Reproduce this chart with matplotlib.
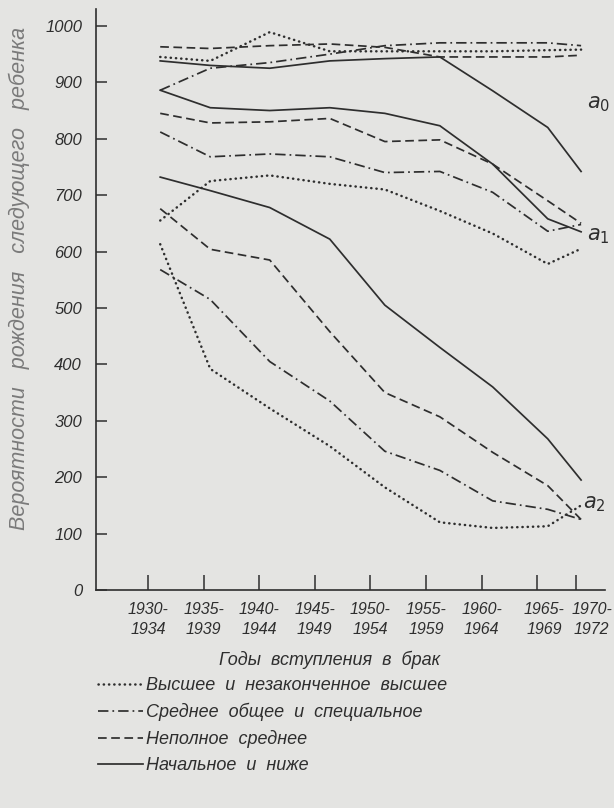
import numpy as np
import matplotlib.pyplot as plt

# periods of entering marriage (x axis)
periods = ["1930-\n1934", "1935-\n1939", "1940-\n1944", "1945-\n1949", "1950-\n1954",
           "1955-\n1959", "1960-\n1964", "1965-\n1969", "1970-\n1972"]
tick_pos = [0, 1, 2, 3, 4, 5, 6, 7, 7.7]
label_pos = [0, 1, 2, 3, 4, 5, 6, 7.13, 7.98]
x_pos = [0.22, 1.12, 2.19, 3.27, 4.26, 5.25, 6.2, 7.19, 7.79]

education = ["Высшее  и  незаконченное  высшее",
             "Среднее  общее  и  специальное",
             "Неполное  среднее",
             "Начальное  и  ниже"]

# a0 - probability of the first birth
a0_higher = [945, 938, 989, 955, 955, 955, 955, 957, 958]
a0_secondary = [886, 925, 935, 950, 965, 970, 970, 970, 965]
a0_incomplete = [963, 960, 965, 968, 962, 945, 945, 945, 948]
a0_primary = [938, 930, 925, 938, 942, 945, 885, 820, 742]

# a1 - probability of the second birth
a1_higher = [655, 725, 735, 720, 710, 672, 632, 578, 605]
a1_secondary = [812, 768, 773, 768, 740, 742, 705, 636, 648]
a1_incomplete = [845, 828, 830, 836, 795, 798, 755, 690, 650]
a1_primary = [886, 855, 850, 855, 845, 823, 755, 658, 635]

# a2 - probability of the third birth
a2_higher = [613, 392, 322, 255, 182, 120, 110, 113, 150]
a2_secondary = [568, 515, 405, 335, 246, 212, 158, 143, 125]
a2_incomplete = [676, 604, 585, 458, 350, 307, 244, 185, 125]
a2_primary = [732, 708, 678, 622, 505, 430, 360, 268, 195]

ink = "#2e2e2e"
paper = "#e4e4e2"
styles = [dict(linestyle=(0, (0.1, 2.0)), linewidth=1.8, dash_capstyle="round"),
          dict(linestyle=(0, (6, 2.3, 1, 2.3)), linewidth=1.25),
          dict(linestyle=(0, (5, 2.6)), linewidth=1.25),
          dict(linestyle="-", linewidth=1.25)]

font = dict(family="Liberation Sans", style="italic")

fig = plt.figure(figsize=(6.14, 8.08), dpi=100, facecolor=paper)
ax = fig.add_axes([96 / 614, (808 - 590) / 808, (605 - 96) / 614, 581 / 808])
ax.set_facecolor(paper)

groups = [[a0_higher, a0_secondary, a0_incomplete, a0_primary],
          [a1_higher, a1_secondary, a1_incomplete, a1_primary],
          [a2_higher, a2_secondary, a2_incomplete, a2_primary]]
handles = []
for g in groups:
    for i, series in enumerate(g):
        line, = ax.plot(x_pos, series, color=ink, **styles[i])
        if len(handles) < 4:
            handles.append(line)

ax.text(8.1, 862, r"$a_0$", fontsize=15, color=ink, ha="center", va="center")
ax.text(8.1, 628, r"$a_1$", fontsize=15, color=ink, ha="center", va="center")
ax.text(8.03, 153, r"$a_2$", fontsize=15, color=ink, ha="center", va="center")

ax.set_xlim(-0.935, 8.22)
ax.set_ylim(0, 1030)
ax.set_yticks(np.arange(0, 1001, 100))

# tick marks on the major ticks, period labels on the minor ones
ax.xaxis.remove_overlapping_locs = False
ax.set_xticks(tick_pos)
ax.set_xticklabels([])
ax.set_xticks(label_pos, minor=True)
ax.set_xticklabels(periods, minor=True, linespacing=1.35)
for lab in ax.get_xticklabels(minor=True) + ax.get_yticklabels():
    lab.set_fontfamily("Liberation Sans")
    lab.set_fontstyle("italic")
    lab.set_fontsize(11.5)
    lab.set_color(ink)
for lab in ax.get_yticklabels():
    lab.set_fontsize(12)

ax.tick_params(axis="y", direction="in", length=8, width=1.1, pad=10, colors=ink)
ax.tick_params(axis="x", which="major", direction="in", length=11, width=1.1, colors=ink)
ax.tick_params(axis="x", which="minor", length=0, pad=9, colors=ink)
for s in ["top", "right"]:
    ax.spines[s].set_visible(False)
for s in ["left", "bottom"]:
    ax.spines[s].set_color(ink)
    ax.spines[s].set_linewidth(1.2)

fig.text(19 / 614, 1 - 278 / 808, "Вероятности   рождения   следующего   ребенка",
         rotation=90, ha="center", va="center", fontsize=15.5, color="#7a7a7a", **font)
fig.text(330 / 614, 1 - 660 / 808, "Годы  вступления  в  брак",
         ha="center", va="center", fontsize=13, color=ink, **font)

fig.legend(handles, education, loc="upper left", bbox_to_anchor=(98 / 614, 1 - 677 / 808),
           frameon=False, handlelength=2.5, handletextpad=0.15, labelspacing=0.5,
           borderaxespad=0, borderpad=0,
           prop=dict(family="Liberation Sans", style="italic", size=13), labelcolor=ink)

plt.savefig("out.png", dpi=100, facecolor=paper)
